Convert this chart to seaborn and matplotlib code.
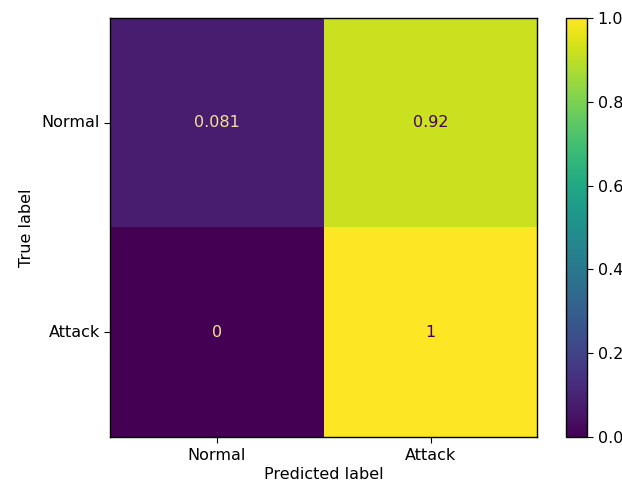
import numpy as np
import pandas as pd
import matplotlib
matplotlib.use("Agg")
import matplotlib.pyplot as plt
import seaborn as sns

# normalized confusion matrix (rows = true, cols = predicted)
labels = ["Normal", "Attack"]
row_normal = [0.081, 0.92]
row_attack = [0.0, 1.0]

cm = pd.DataFrame([row_normal, row_attack], index=labels, columns=labels)

plt.rcParams["font.size"] = 11.5
cmap = plt.get_cmap("viridis")

fig = plt.figure(figsize=(6.22, 4.83), dpi=100)
ax = fig.add_axes([0.177, 0.095, 0.687, 0.868])
cax = fig.add_axes([0.910, 0.095, 0.034, 0.868])

sns.heatmap(cm, ax=ax, cbar_ax=cax, cmap="viridis", vmin=0, vmax=1,
            annot=True, fmt=".2g", annot_kws={"fontsize": 11.5})

# sklearn-style text colours: light on dark cells, dark purple on light ones
vals = cm.values.ravel()
for txt, v in zip(ax.texts, vals):
    txt.set_color("#f3e39a" if v < 0.5 else cmap(0.0))

for sp in ax.spines.values():
    sp.set_visible(True)
    sp.set_linewidth(1.0)
    sp.set_color("black")

ax.set_yticklabels(labels, rotation=0)
ax.set_xticklabels(labels, rotation=0)
ax.tick_params(length=4)
ax.set_xlabel("Predicted label", labelpad=3)
ax.set_ylabel("True label", labelpad=5)

cb = ax.collections[0].colorbar
cb.outline.set_visible(True)
cb.outline.set_linewidth(1.0)
cb.outline.set_edgecolor("black")
cb.set_ticks([0.0, 0.2, 0.4, 0.6, 0.8, 1.0])
cb.ax.tick_params(labelsize=11.5, length=4)

fig.savefig("out.png", dpi=100)
